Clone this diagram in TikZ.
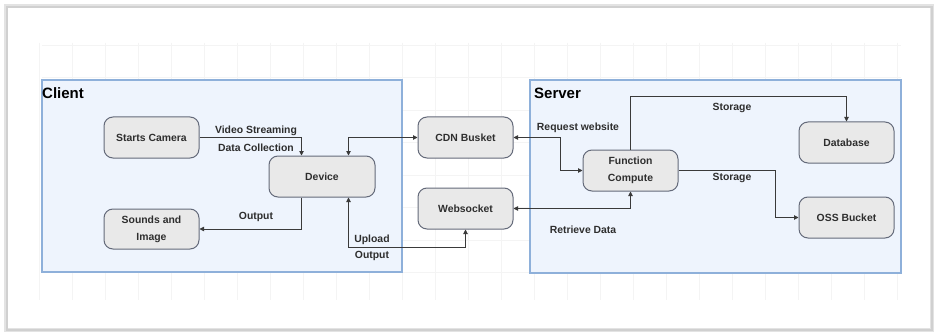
\documentclass[tikz,border=0pt]{standalone}
\usepackage{fontspec}
\setmainfont{Liberation Sans}
\usetikzlibrary{arrows.meta}
\definecolor{gridc}{HTML}{F4F4F4}
\definecolor{boxfill}{HTML}{EEF4FD}
\definecolor{boxline}{HTML}{8EB0DA}
\definecolor{nodefill}{HTML}{E9E9E9}
\definecolor{nodeline}{HTML}{646A7A}
\definecolor{linec}{HTML}{3A3A3A}
\definecolor{textc}{HTML}{2E2E2E}
\definecolor{framec}{HTML}{D0D0D0}
\begin{document}
\begin{tikzpicture}[x=1pt,y=-1pt,
  proc/.style={draw=nodeline, fill=nodefill, line width=1pt, rounded corners=9pt,
    minimum width=95pt, minimum height=41pt, align=center, inner sep=1pt,
    font=\fontsize{10.4}{17}\selectfont\bfseries, text=textc},
  conn/.style={draw=linec, line width=0.9pt, -{Triangle[length=4.5pt,width=4.5pt]}},
  both/.style={draw=linec, line width=0.9pt, {Triangle[length=4.5pt,width=4.5pt]}-{Triangle[length=4.5pt,width=4.5pt]}},
  lbl/.style={font=\fontsize{10.4}{12}\selectfont\bfseries, text=textc, inner sep=0pt},
  grp/.style={draw=boxline, fill=boxfill, line width=1.2pt},
  grplbl/.style={font=\fontsize{15}{18}\selectfont\bfseries, text=black, inner sep=0pt, anchor=west}
]
\useasboundingbox (0,0) rectangle (936,334);
\fill[white] (0,0) rectangle (936,334);
% outer frame
\draw[framec!60, line width=4pt] (6,6) rectangle (932,330);
\draw[framec, line width=1.5pt] (7,7) rectangle (932,330);
% faint grid
\foreach \x in {39,72,...,900} \draw[gridc, line width=0.5pt] (\x,43) -- (\x,300);
\foreach \y in {45,77.5,...,300} \draw[gridc, line width=0.5pt] (42,\y) -- (901,\y);
% groups
\draw[grp] (42,80) rectangle (402,272);
\draw[grp] (530,80) rectangle (901,273);
\node[grplbl] (client) at (42,93) {Client};
\node[grplbl] (server) at (534,93) {Server};
% nodes
\node[proc] (cam) at (151.5,137.5) {Starts Camera};
\node[proc, minimum width=106pt] (dev) at (322,176.5) {Device};
\node[proc, minimum height=40pt] (snd) at (151.5,229) {Sounds and\\Image};
\node[proc] (cdn) at (465.5,137.5) {CDN Busket};
\node[proc] (ws) at (465.5,208.5) {Websocket};
\node[proc] (fc) at (630.5,170.5) {Function\\Compute};
\node[proc] (db) at (846.5,142.5) {Database};
\node[proc] (oss) at (846.5,217.5) {OSS Bucket};
% connectors
\draw[conn] (cam.east) -| ([xshift=-20.5pt]dev.north);
\draw[conn] ([xshift=-20.5pt]dev.south) |- (snd.east);
\draw[both] ([xshift=26.5pt]dev.north) |- (cdn.west);
\draw[both] ([xshift=26.5pt]dev.south) -- ++(0,50) -| (ws.south);
\draw[both] (cdn.east) -- ++(47,0) |- (fc.west);
\draw[both] (ws.east) -| (fc.south);
\draw[conn] (fc.north) -- ++(0,-53) -| (db.north);
\draw[conn] (fc.east) -- ++(97,0) |- (oss.west);
% labels
\node[lbl] (l1) at (256,131) {Video Streaming};
\node[lbl] (l2) at (256,147.5) {Data Collection};
\node[lbl] (l3) at (256,217) {Output};
\node[lbl] (l4) at (372,240) {Upload};
\node[lbl] (l5) at (372,255.5) {Output};
\node[lbl] (l6) at (578,128) {Request website};
\node[lbl] (l7) at (583,230) {Retrieve Data};
\node[lbl] (l8) at (732,108) {Storage};
\node[lbl] (l9) at (732,178) {Storage};
\end{tikzpicture}
\end{document}
